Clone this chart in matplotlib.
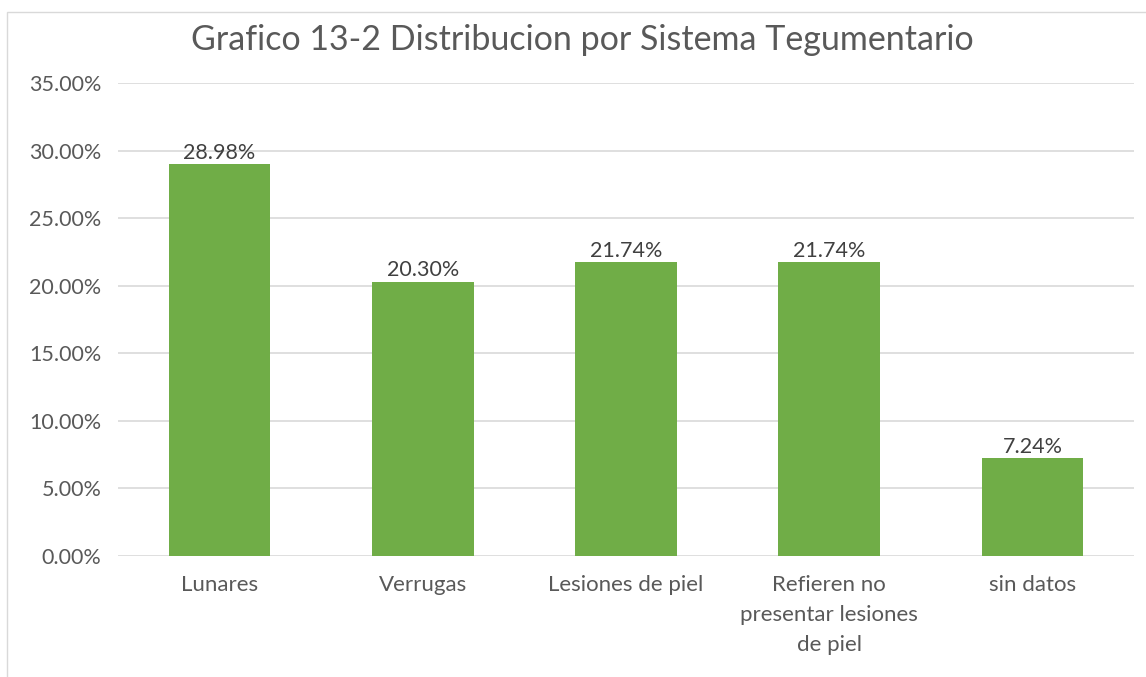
import matplotlib
matplotlib.use("Agg")
import matplotlib.pyplot as plt
from matplotlib.ticker import FuncFormatter, MultipleLocator
from matplotlib.patches import Rectangle

categories = ["Lunares", "Verrugas", "Lesiones de piel", "Refieren no\npresentar lesiones\nde piel", "sin datos"]
values = [28.98, 20.30, 21.74, 21.74, 7.24]
title = "Grafico 13-2 Distribucion por Sistema Tegumentario"

plt.rcParams['font.family'] = ['Lato', 'DejaVu Sans']

fig = plt.figure(figsize=(11.46, 6.77), dpi=100)
fig.patch.set_facecolor("white")
# chart border
fig.add_artist(Rectangle((7/1146, -0.01), 1.2, (677-12)/677 + 0.01, transform=fig.transFigure,
                         fill=False, edgecolor="#D9D9D9", linewidth=1))

ax = fig.add_axes([118/1146, 121/677, (1134-118)/1146, (556-83)/677])
x = list(range(len(categories)))
bars = ax.bar(x, values, width=0.5, color="#70AD47", zorder=3)
ax.set_xlim(-0.5, len(categories) - 0.5)
ax.set_ylim(0, 35)
ax.yaxis.set_major_locator(MultipleLocator(5))
ax.yaxis.set_major_formatter(FuncFormatter(lambda v, p: f"{v:.2f}%"))
ax.grid(axis="y", color="#D9D9D9", linewidth=1.2, zorder=0)
for s in ax.spines.values():
    s.set_visible(False)
ax.tick_params(axis="both", length=0, colors="#595959")
ax.tick_params(axis="y", pad=12, labelsize=15.5)
ax.tick_params(axis="x", pad=14, labelsize=16)
ax.set_xticks(x)
ax.set_xticklabels(categories, linespacing=1.6, va="top")
for xi, v in zip(x, values):
    ax.annotate(f"{v:.2f}%", (xi, v), xytext=(0, 1), textcoords="offset points",
                ha="center", va="bottom", fontsize=15.5, color="#404040")
fig.text(0.508, 1 - 40/677, title, ha="center", va="center", fontsize=24.5, color="#595959")
fig.savefig("out.png", dpi=100, facecolor="white")
